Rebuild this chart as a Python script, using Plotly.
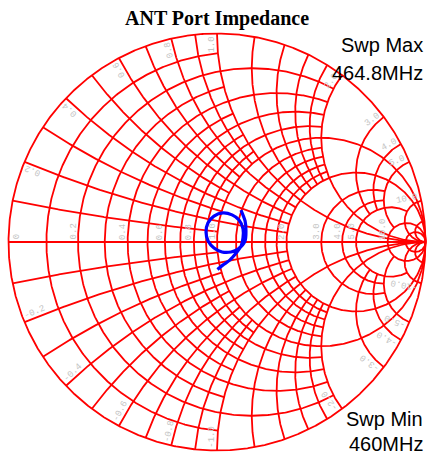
import numpy as np
import plotly.graph_objects as go

# ---------------- data ----------------
Z0 = 50.0
trace_r_ohm = [48.5, 51.7, 55.8, 59.7, 63.0, 64.2, 63.7, 60.3, 55.7, 50.9, 47.1,
               45.1, 44.8, 45.9, 48.5, 52.2, 56.9, 61.1, 65.5, 65.7, 64.0, 59.7]
trace_x_ohm = [-13.0, -11.5, -9.7, -6.4, -2.5, 2.5, 8.1, 13.0, 14.8, 14.5, 11.9,
               8.3, 4.3, 0.4, -2.8, -5.0, -5.5, -4.2, 0.6, 7.1, 13.3, 19.0]

title_text = "ANT Port Impedance"
sweep_max_labels = ["Swp Max", "464.8MHz"]
sweep_min_labels = ["Swp Min", "460MHz"]

# grid: constant-resistance circles and the |reactance| they extend to
grid_r_values = [0.1, 0.2, 0.3, 0.4, 0.5, 0.6, 0.7, 0.8, 0.9, 1.0,
                 1.2, 1.4, 1.6, 1.8, 2.0, 3.0, 4.0, 5.0, 10.0, 20.0]
grid_r_xlimit = [1, 2, 1, 2, 1, 2, 1, 2, 1, np.inf,
                 2, 2, 2, 2, np.inf, 5, 5, 10, np.inf, np.inf]
# constant-reactance arcs and the resistance they extend to
grid_x_values = [0.1, 0.2, 0.3, 0.4, 0.5, 0.6, 0.7, 0.8, 0.9, 1.0,
                 1.2, 1.4, 1.6, 1.8, 2.0, 3.0, 4.0, 5.0, 10.0, 20.0]
grid_x_rlimit = [1, 2, 1, 2, 1, 2, 1, 2, 1, np.inf,
                 2, 2, 2, 2, np.inf, 5, 5, 10, np.inf, np.inf]

r_label_values = [0, 0.2, 0.4, 0.6, 0.8, 1.0, 2.0, 3.0, 4.0, 5.0, 10.0]
r_label_texts = ["0", "0.2", "0.4", "0.6", "0.8", "1.0", "2.0", "3.0", "4.0", "5.0", "10.0"]
x_label_values = [0.2, 0.4, 0.6, 0.8, 1.0, 2.0, 3.0, 4.0, 5.0, 10.0]
x_label_texts = ["0.2", "0.4", "0.6", "0.8", "1.0", "2.0", "3.0", "4.0", "5.0", "10.0"]

# ---------------- geometry helpers ----------------
W, H = 429, 455
CX, CY, RPX = 217.0, 242.0, 208.5      # chart centre / radius in pixels


def gamma(z):
    return (z - 1) / (z + 1)


def r_circle(r, xlim, n=500):
    s = r + 1.0
    T = np.arctan(xlim / s) if np.isfinite(xlim) else np.pi / 2 - 1e-5
    t = np.linspace(-T, T, n)
    return gamma(r + 1j * s * np.tan(t))


def x_arc(x, rlim, n=400):
    s = abs(x) + 1.0
    T = np.arctan(rlim / s) if np.isfinite(rlim) else np.pi / 2 - 1e-5
    t = np.linspace(0, T, n)
    return gamma(s * np.tan(t) + 1j * x)


gx, gy = [], []


def add(seg):
    gx.extend(seg.real.tolist() + [None])
    gy.extend(seg.imag.tolist() + [None])


add(r_circle(0.0, np.inf, 1500))            # outer circle
add(np.array([-1.0 + 0j, 1.0 + 0j]))          # real axis
for r, lim in zip(grid_r_values, grid_r_xlimit):
    add(r_circle(r, lim))
for x, lim in zip(grid_x_values, grid_x_rlimit):
    add(x_arc(x, lim))
    add(x_arc(-x, lim))

fig = go.Figure()
fig.add_trace(go.Scatter(x=gx, y=gy, mode="lines", hoverinfo="skip",
                         line=dict(color="#ff0000", width=1.8), showlegend=False))

g = gamma((np.array(trace_r_ohm) + 1j * np.array(trace_x_ohm)) / Z0)
fig.add_trace(go.Scatter(x=g.real, y=g.imag, mode="lines", showlegend=False,
                         line=dict(color="#0000ff", width=3.2, shape="spline", smoothing=0.8)))

# ---------------- labels ----------------
LBL_FONT = dict(family="Liberation Mono, DejaVu Sans Mono, monospace", size=9, color="#c4c4c4")
CHAR_W = 5.4
ann = []
for v, t in zip(r_label_values, r_label_texts):
    gr = gamma(v + 0j).real
    L = len(t) * CHAR_W
    dx = 8.5 if v == 0 else -4.5
    ann.append(dict(x=gr + dx / RPX, y=(2 + L / 2) / RPX, text=t, textangle=-90,
                    showarrow=False, font=LBL_FONT, xanchor="center", yanchor="middle"))

for v, t in zip(x_label_values, x_label_texts):
    for sgn in (1, -1):
        xv = sgn * v
        theta = np.pi - 2 * np.arctan(xv)
        if theta > np.pi:
            theta -= 2 * np.pi
        phi = theta if theta >= 0 else theta + np.pi
        txt = t if sgn > 0 else "-" + t
        L = len(txt) * CHAR_W
        d = 3 + L / 2
        h = 5
        px = np.cos(theta) * (1 - d / RPX) + h / RPX * np.cos(phi + np.pi / 2)
        py = np.sin(theta) * (1 - d / RPX) + h / RPX * np.sin(phi + np.pi / 2)
        ann.append(dict(x=px, y=py, text=txt, textangle=-np.degrees(phi),
                        showarrow=False, font=LBL_FONT, xanchor="center", yanchor="middle"))

ann.append(dict(x=0, y=1 - 19 / H, xref="x", yref="paper", text="<b>%s</b>" % title_text,
                showarrow=False, xanchor="center", yanchor="middle",
                font=dict(family="Liberation Serif, Times New Roman, serif", size=20, color="#000")))
SWP_FONT = dict(family="Liberation Sans, Arial, sans-serif", size=20, color="#000")
for txt, ypx in zip(sweep_max_labels + sweep_min_labels, [45.5, 72.5, 419, 444]):
    ann.append(dict(x=425 / W, y=1 - ypx / H, xref="paper", yref="paper", text=txt,
                    showarrow=False, xanchor="right", yanchor="middle", font=SWP_FONT))

fig.update_layout(
    width=W, height=H, margin=dict(l=0, r=0, t=0, b=0),
    paper_bgcolor="white", plot_bgcolor="white",
    xaxis=dict(range=[-CX / RPX, (W - CX) / RPX], visible=False, fixedrange=True),
    yaxis=dict(range=[-(H - CY) / RPX, CY / RPX], visible=False, fixedrange=True),
    annotations=ann, showlegend=False,
)
fig.write_html("out.html", config={"displayModeBar": False},
               post_script="document.body.style.margin='0';document.body.style.overflow='hidden';")
